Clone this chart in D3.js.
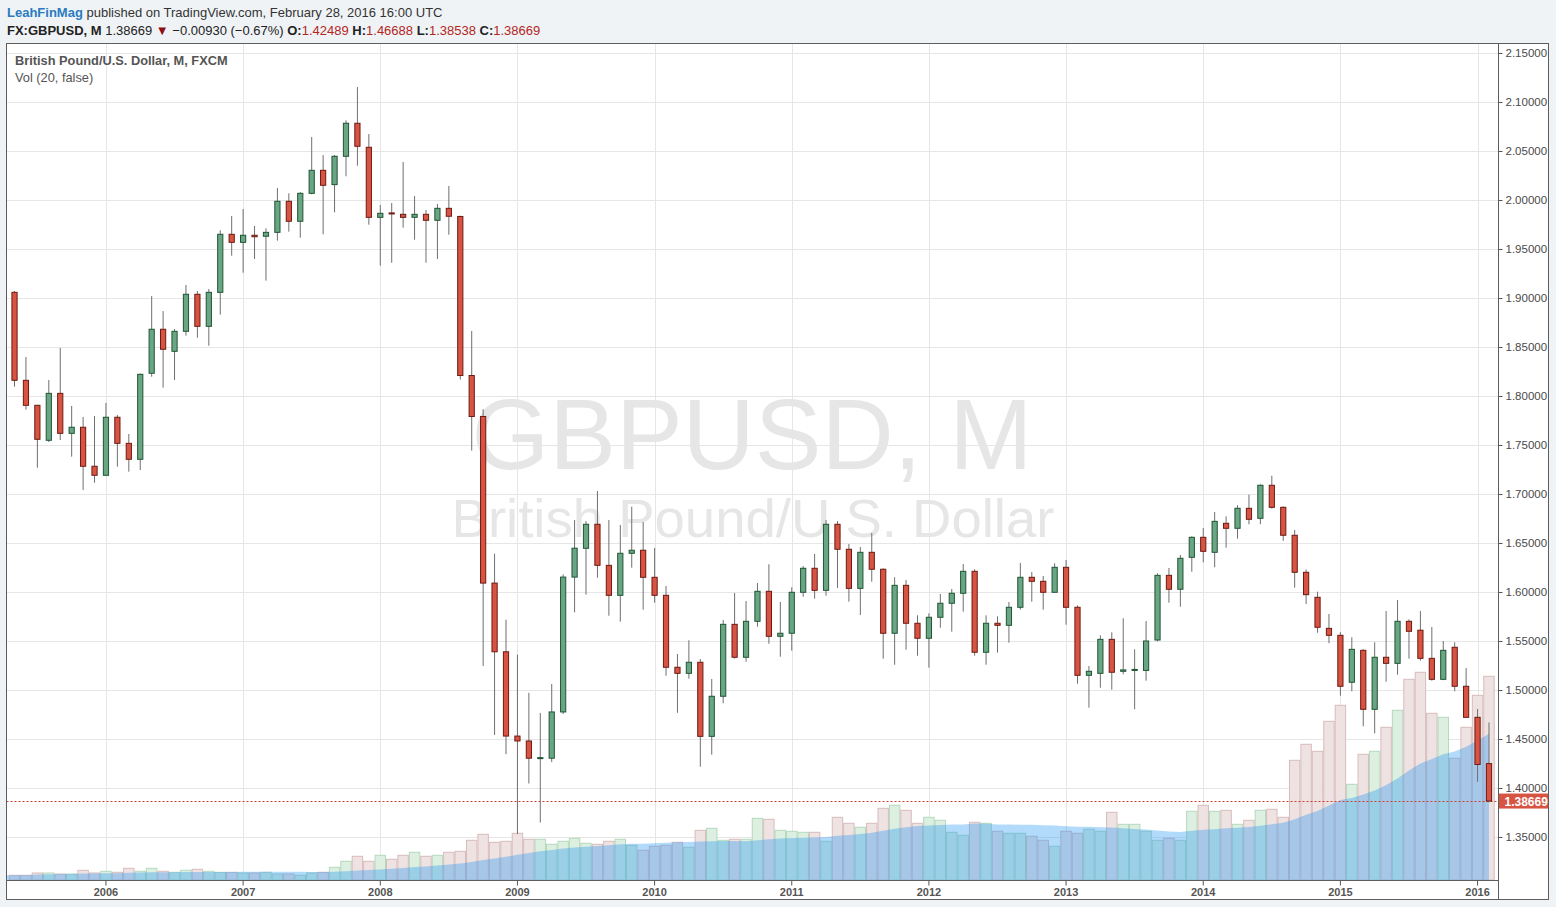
<!DOCTYPE html>
<html>
<head>
<meta charset="utf-8">
<script src="https://cdn.jsdelivr.net/npm/d3@7"></script>
<style>
  body { margin: 0; background: #f0f3f6; }
  svg { display: block; font-family: "Liberation Sans", Arial, sans-serif; }
</style>
</head>
<body>
<script>
// GBPUSD monthly, May 2005 .. Feb 2016 (FXCM)
const firstMonth = new Date(Date.UTC(2005, 4, 1));

const open = [1.9058,1.8160,1.7905,1.7548,1.8027,1.7619,1.7681,1.7283,1.7191,1.7783,1.7517,1.7354,
  1.8232,1.8681,1.8456,1.8660,1.9038,1.8711,1.9058,1.9650,1.9568,1.9640,1.9630,1.9670,
  1.9987,1.9783,2.0068,2.0303,2.0157,2.0446,2.0783,2.0538,1.9823,1.9868,1.9854,1.9823,
  1.9854,1.9793,1.9915,1.9832,1.8209,1.7791,1.6091,1.5390,1.4530,1.4480,1.4304,1.4304,
  1.4776,1.6152,1.6446,1.6691,1.6272,1.5966,1.6395,1.6426,1.6150,1.5966,1.5232,1.5170,
  1.5283,1.4527,1.4936,1.5670,1.5334,1.5701,1.6007,1.5548,1.5579,1.5997,1.6242,1.6017,
  1.6691,1.6436,1.6037,1.6405,1.6232,1.5579,1.6068,1.5681,1.5528,1.5742,1.5885,1.5987,
  1.6211,1.5385,1.5681,1.5660,1.5844,1.6150,1.6109,1.5997,1.6252,1.5844,1.5150,1.5170,
  1.5517,1.5191,1.5205,1.5200,1.5510,1.6170,1.6028,1.6354,1.6558,1.6405,1.6701,1.6650,
  1.6854,1.6752,1.7089,1.6864,1.6579,1.6201,1.5946,1.5629,1.5558,1.5079,1.5405,1.4803,
  1.5334,1.5272,1.5701,1.5610,1.5323,1.5109,1.5436,1.5038,1.4721,1.42489];

const high = [1.9071,1.8398,1.7910,1.8163,1.8490,1.7898,1.7786,1.7796,1.7929,1.7806,1.7612,1.8230,
  1.9020,1.8867,1.8684,1.9133,1.9071,1.9092,1.9691,1.9837,1.9908,1.9735,1.9711,2.0122,
  2.0068,2.0082,2.0643,2.0459,2.0459,2.0813,2.1153,2.0673,1.9949,1.9969,2.0388,2.0041,
  1.9898,1.9959,2.0143,1.9840,1.8664,1.7865,1.6390,1.5717,1.5361,1.4971,1.4766,1.5061,
  1.6180,1.6734,1.6724,1.7031,1.6735,1.6684,1.6870,1.6714,1.6449,1.6061,1.5367,1.5507,
  1.5316,1.5112,1.5714,1.5990,1.5908,1.6092,1.6283,1.5898,1.6048,1.6265,1.6388,1.6735,
  1.6724,1.6490,1.6459,1.6602,1.6242,1.6150,1.6122,1.5762,1.5783,1.5980,1.6031,1.6286,
  1.6232,1.5762,1.5752,1.5898,1.6296,1.6204,1.6163,1.6293,1.6327,1.5864,1.5245,1.5558,
  1.5589,1.5732,1.5415,1.5704,1.6191,1.6245,1.6378,1.6568,1.6653,1.6816,1.6772,1.6885,
  1.6993,1.7099,1.7187,1.6874,1.6633,1.6230,1.6003,1.5776,1.5590,1.5538,1.5415,1.5487,
  1.5806,1.5918,1.5721,1.5806,1.5643,1.5500,1.5487,1.5224,1.4806,1.46688];

const low = [1.8095,1.7860,1.7268,1.7530,1.7551,1.7381,1.7041,1.7115,1.7185,1.7279,1.7228,1.7245,
  1.8197,1.8085,1.8163,1.8616,1.8595,1.8513,1.8830,1.9432,1.9258,1.9398,1.9177,1.9585,
  1.9677,1.9615,2.0058,1.9650,1.9874,2.0242,2.0350,1.9748,1.9330,1.9360,1.9717,1.9595,
  1.9360,1.9398,1.9646,1.8168,1.7443,1.5246,1.4541,1.4345,1.3530,1.4046,1.3648,1.4264,
  1.4755,1.5792,1.5973,1.6146,1.5758,1.5697,1.6248,1.5820,1.5891,1.5146,1.4768,1.5115,
  1.4217,1.4340,1.4864,1.5320,1.5289,1.5646,1.5472,1.5340,1.5401,1.5952,1.5932,1.5962,
  1.6041,1.5901,1.5765,1.6105,1.5320,1.5258,1.5411,1.5350,1.5228,1.5636,1.5595,1.5799,
  1.5350,1.5258,1.5381,1.5483,1.5820,1.5901,1.5820,1.5990,1.5666,1.5064,1.4820,1.5023,
  1.5003,1.5160,1.4803,1.5095,1.5497,1.5891,1.5850,1.6207,1.6303,1.6252,1.6452,1.6544,
  1.6691,1.6691,1.6850,1.6523,1.6044,1.5878,1.5585,1.5477,1.4942,1.4987,1.4630,1.4558,
  1.5085,1.5156,1.5320,1.5300,1.5095,1.5100,1.4987,1.4720,1.4064,1.38538];

const close = [1.8160,1.7905,1.7558,1.8027,1.7619,1.7681,1.7283,1.7191,1.7783,1.7517,1.7354,1.8221,
  1.8681,1.8477,1.8660,1.9038,1.8711,1.9058,1.9650,1.9568,1.9640,1.9625,1.9670,1.9987,
  1.9783,2.0068,2.0303,2.0150,2.0446,2.0783,2.0548,1.9823,1.9864,1.9860,1.9823,1.9854,
  1.9793,1.9915,1.9834,1.8209,1.7791,1.6091,1.5390,1.4530,1.4480,1.4304,1.4310,1.4776,
  1.6152,1.6447,1.6691,1.6272,1.5966,1.6395,1.6426,1.6150,1.5966,1.5232,1.5170,1.5283,
  1.4527,1.4936,1.5670,1.5334,1.5701,1.6007,1.5548,1.5579,1.5997,1.6242,1.6017,1.6691,
  1.6436,1.6037,1.6405,1.6232,1.5579,1.6068,1.5681,1.5528,1.5742,1.5885,1.5987,1.6211,
  1.5385,1.5681,1.5660,1.5844,1.6150,1.6109,1.5997,1.6252,1.5844,1.5150,1.5191,1.5517,
  1.5181,1.5205,1.5210,1.5500,1.6170,1.6028,1.6344,1.6558,1.6415,1.6721,1.6650,1.6854,
  1.6742,1.7089,1.6864,1.6579,1.6201,1.5973,1.5640,1.5558,1.5038,1.5415,1.4803,1.5334,
  1.5272,1.5701,1.5599,1.5323,1.5109,1.5405,1.5038,1.4721,1.4240,1.38669];

const volume = [47,47,70,70,60,60,97,70,87,77,117,87,
  117,87,77,97,107,87,77,77,70,70,77,60,
  60,47,70,77,127,187,237,187,247,207,247,277,
  237,247,277,287,397,457,377,387,467,407,407,357,
  387,417,367,357,387,407,347,297,337,347,377,327,
  497,517,397,407,407,617,607,497,487,477,477,387,
  627,567,527,567,717,747,697,567,627,597,477,447,
  577,567,487,467,467,437,397,337,487,467,507,487,
  677,557,557,487,397,417,397,687,747,687,697,557,
  597,697,707,627,1197,1357,1287,1587,1747,957,1257,1287,
  1527,1697,2007,2077,1667,1627,1217,1527,1847,2037];

const priceTicks = [1.35,1.40,1.45,1.50,1.55,1.60,1.65,1.70,1.75,1.80,1.85,1.90,1.95,2.00,2.05,2.10,2.15];
const lastPrice = 1.38669;
const maLength = 20;

const months = d3.utcMonth.range(firstMonth, d3.utcMonth.offset(firstMonth, open.length));
const bars = months.map((m, i) => ({
  m, o: open[i], h: high[i], l: low[i], c: close[i], v: volume[i],
  ma: d3.mean(volume.slice(Math.max(0, i - maLength + 1), i + 1))
}));
const januaries = months.filter(m => m.getUTCMonth() === 0);

//*********************************************
// canvas
const canvWidth = 1556, canvHeight = 907;
const plot = {left: 6.5, right: 1498.5, top: 43.5, bottom: 880.5};
const panelRight = 1548.5, panelBottom = 899.5;

const svg = d3.select("body").append("svg")
    .attr("width", canvWidth)
    .attr("height", canvHeight);

// scales
const xScale = d3.scaleBand()
    .domain(months)
    .range([8.8, 1494.7])
    .padding(0);
const cx = d => xScale(d) + xScale.bandwidth() / 2;

const yScale = d3.scaleLinear()
    .domain([1.35, 2.15])
    .range([837, 53]);

const yVol = d3.scaleLinear()
    .domain([0, 2000])
    .range([880, 680]);

// chart panel
svg.append("rect")
    .attr("x", plot.left).attr("y", plot.top)
    .attr("width", panelRight - plot.left).attr("height", panelBottom - plot.top)
    .attr("fill", "#fff")
    .attr("stroke", "#5d5d5d");

svg.append("defs").append("clipPath").attr("id", "plot-clip")
  .append("rect")
    .attr("x", plot.left + 0.5).attr("y", plot.top + 0.5)
    .attr("width", plot.right - plot.left - 1).attr("height", plot.bottom - plot.top - 1);

const g = svg.append("g").attr("clip-path", "url(#plot-clip)");

// grid
g.append("g").selectAll("line")
  .data(priceTicks)
  .join("line")
    .attr("x1", plot.left).attr("x2", plot.right)
    .attr("y1", d => Math.round(yScale(d)) + 0.5).attr("y2", d => Math.round(yScale(d)) + 0.5)
    .attr("stroke", "#e6e6e6");

g.append("g").selectAll("line")
  .data(januaries)
  .join("line")
    .attr("x1", d => Math.round(cx(d)) + 0.5).attr("x2", d => Math.round(cx(d)) + 0.5)
    .attr("y1", plot.top).attr("y2", plot.bottom)
    .attr("stroke", "#e6e6e6");

// watermark
g.append("text")
    .attr("x", 752).attr("y", 469)
    .attr("text-anchor", "middle")
    .attr("font-size", 100)
    .attr("fill", "#e6e6e6")
    .text("GBPUSD, M");

g.append("text")
    .attr("x", 753).attr("y", 537)
    .attr("text-anchor", "middle")
    .attr("font-size", 54.5)
    .attr("fill", "#e6e6e6")
    .text("British Pound/U.S. Dollar");

// volume histogram
g.append("g").selectAll("rect")
  .data(bars)
  .join("rect")
    .attr("x", d => xScale(d.m) + 0.5)
    .attr("y", d => yVol(d.v))
    .attr("width", xScale.bandwidth() - 1)
    .attr("height", d => yVol(0) - yVol(d.v))
    .attr("fill", d => d.c >= d.o ? "#dcefe0" : "#efe2e2")
    .attr("stroke", d => d.c >= d.o ? "#b4d9bd" : "#d8bcbc")
    .attr("stroke-width", 1);

// volume moving average
const maPoints = [{x: plot.left, ma: bars[0].ma}].concat(bars.map(d => ({x: cx(d.m), ma: d.ma})));
g.append("path")
    .datum(maPoints)
    .attr("fill", "rgba(33,150,243,0.35)")
    .attr("d", d3.area()
      .x(d => d.x)
      .y0(yVol(0))
      .y1(d => yVol(d.ma)));

// last price line
g.append("line")
    .attr("x1", plot.left).attr("x2", plot.right)
    .attr("y1", Math.round(yScale(lastPrice)) + 0.5).attr("y2", Math.round(yScale(lastPrice)) + 0.5)
    .attr("stroke", "#c9402f")
    .attr("stroke-dasharray", "2,2");

// candles
const candle = g.append("g").selectAll("g")
  .data(bars)
  .join("g");

candle.append("line")
    .attr("x1", d => cx(d.m)).attr("x2", d => cx(d.m))
    .attr("y1", d => yScale(d.h)).attr("y2", d => yScale(d.l))
    .attr("stroke", "#6f6f6f");

candle.append("rect")
    .attr("x", d => cx(d.m) - 2.6)
    .attr("width", 5.2)
    .attr("y", d => yScale(Math.max(d.o, d.c)))
    .attr("height", d => Math.max(1, Math.abs(yScale(d.o) - yScale(d.c))))
    .attr("fill", d => d.c >= d.o ? "#6aa684" : "#d75442")
    .attr("stroke", d => d.c >= d.o ? "#1f5535" : "#6e1a12")
    .attr("stroke-width", 1);

// axes
const yAxis = d3.axisRight(yScale)
    .tickValues(priceTicks)
    .tickFormat(d3.format(".5f"))
    .tickSize(4)
    .tickPadding(3);
const ya = svg.append("g")
    .attr("transform", "translate(" + plot.right + ",0)")
    .call(yAxis);
ya.select(".domain").remove();
ya.selectAll("line").attr("stroke", "#555");
ya.selectAll("text").attr("font-size", 11.5).attr("fill", "#4a4a4a").attr("font-family", "Liberation Sans, Arial, sans-serif");

const xAxis = d3.axisBottom(xScale)
    .tickValues(januaries)
    .tickFormat(d3.utcFormat("%Y"))
    .tickSize(5)
    .tickPadding(3);
const xa = svg.append("g")
    .attr("transform", "translate(0," + plot.bottom + ")")
    .call(xAxis);
xa.select(".domain").remove();
xa.selectAll("line").attr("stroke", "#555");
xa.selectAll("text").attr("font-size", 11).attr("font-weight", "bold").attr("fill", "#555").attr("font-family", "Liberation Sans, Arial, sans-serif");

// plot frame lines
svg.append("line")
    .attr("x1", plot.left).attr("x2", plot.right)
    .attr("y1", plot.bottom).attr("y2", plot.bottom)
    .attr("stroke", "#5d5d5d");
svg.append("line")
    .attr("x1", plot.right).attr("x2", plot.right)
    .attr("y1", plot.top).attr("y2", panelBottom)
    .attr("stroke", "#5d5d5d");

// last price label
const lpY = yScale(lastPrice);
svg.append("rect")
    .attr("x", plot.right + 0.5).attr("y", lpY - 7.5)
    .attr("width", panelRight - plot.right - 1).attr("height", 15)
    .attr("fill", "#d75442");
svg.append("text")
    .attr("x", plot.right + 6).attr("y", lpY + 4.5)
    .attr("font-size", 12).attr("font-weight", "bold")
    .attr("fill", "#fff")
    .text(d3.format(".5f")(lastPrice));

// legend inside plot
svg.append("text")
    .attr("x", 15).attr("y", 65)
    .attr("font-size", 12.8).attr("font-weight", "bold")
    .attr("fill", "#555")
    .text("British Pound/U.S. Dollar, M, FXCM");
svg.append("text")
    .attr("x", 15).attr("y", 82)
    .attr("font-size", 12.8)
    .attr("fill", "#555")
    .text("Vol (20, false)");

// header
const h1 = svg.append("text").attr("x", 7).attr("y", 17).attr("font-size", 13).attr("fill", "#333");
h1.append("tspan").attr("fill", "#2a7bc0").attr("font-weight", "bold").text("LeahFinMag");
h1.append("tspan").text(" published on TradingView.com, February 28, 2016 16:00 UTC");

const last = bars[bars.length - 1];
const f5 = d3.format(".5f");
const h2 = svg.append("text").attr("x", 7).attr("y", 35).attr("font-size", 13).attr("fill", "#222");
h2.append("tspan").attr("font-weight", "bold").text("FX:GBPUSD, M");
h2.append("tspan").text(" " + f5(last.c) + " ");
h2.append("tspan").attr("fill", "#8e0f0f").text("\u25BC");
h2.append("tspan").text(" \u22120.00930 (\u22120.67%) ");
[["O:", last.o], ["H:", last.h], ["L:", last.l], ["C:", last.c]].forEach(([k, v], i) => {
  h2.append("tspan").attr("font-weight", "bold").text((i ? " " : "") + k);
  h2.append("tspan").attr("fill", "#b3261e").text(f5(v));
});
</script>
</body>
</html>
